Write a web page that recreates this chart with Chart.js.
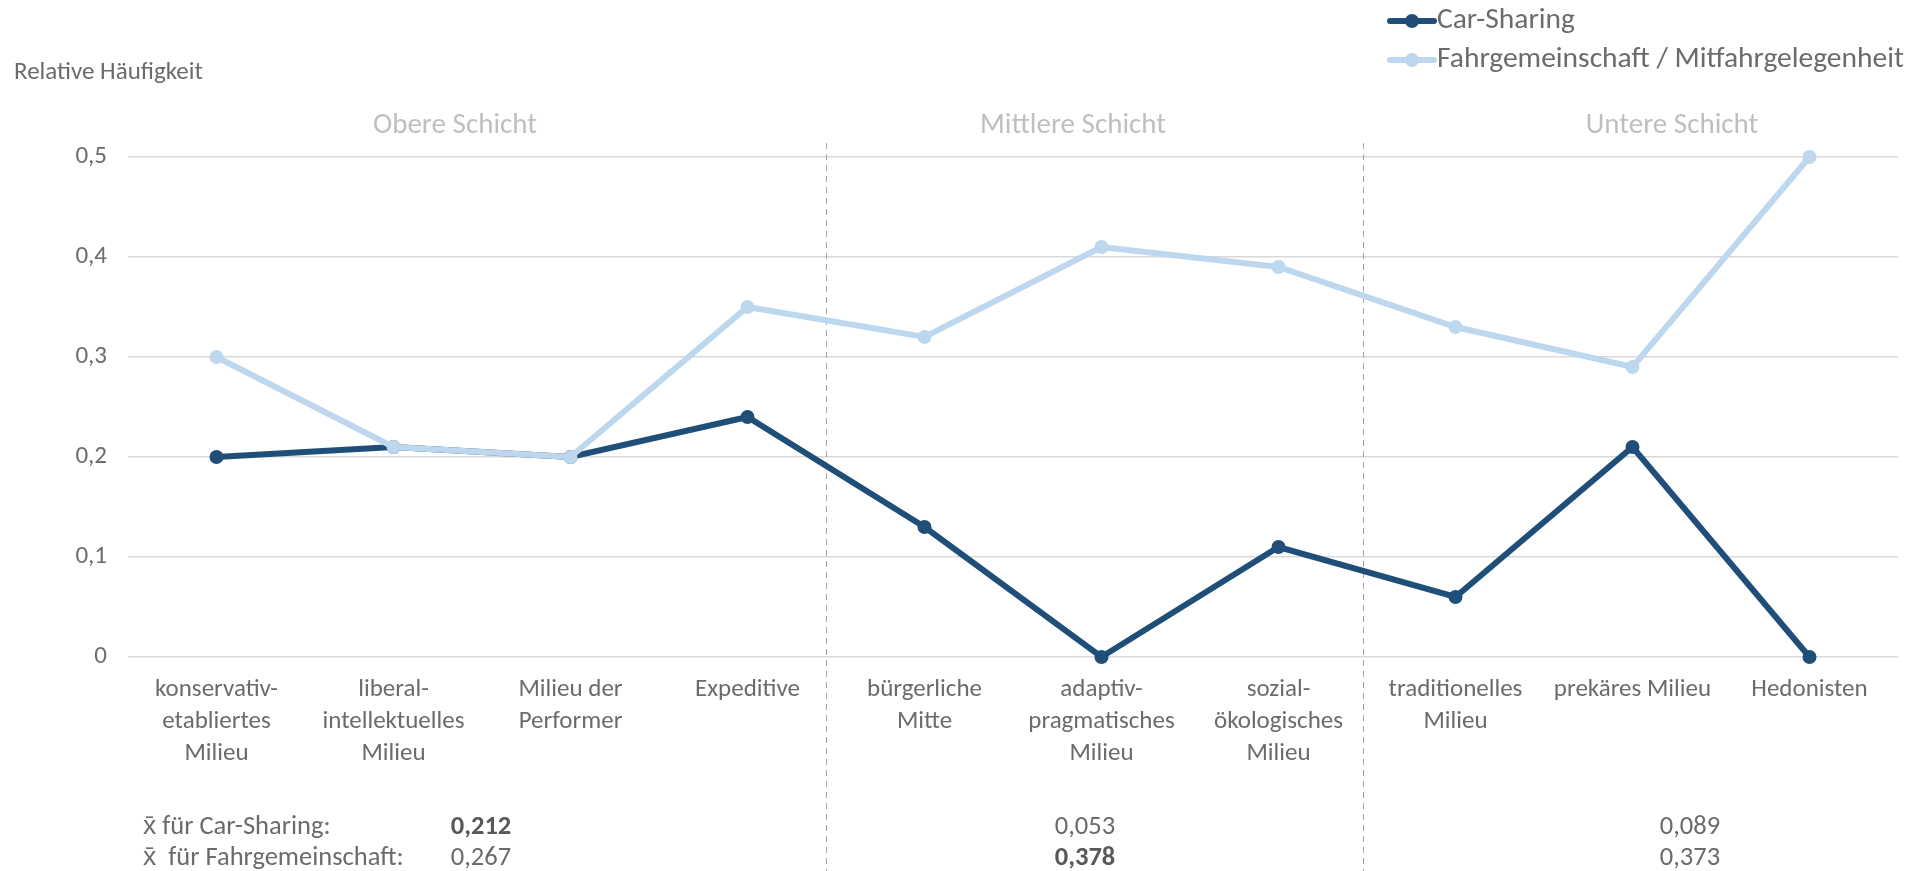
<!DOCTYPE html>
<html><head><meta charset="utf-8">
<script src="https://cdn.jsdelivr.net/npm/chart.js@4.4.1/dist/chart.umd.min.js"></script>
<style>html,body{margin:0;padding:0;background:#fff;overflow:hidden}#wrap{width:1905px;height:871px;position:relative}</style>
</head><body><div id="wrap"><canvas id="c" width="1905" height="871"></canvas></div>
<script>
const categories = [["konservativ-","etabliertes","Milieu"],["liberal-","intellektuelles","Milieu"],["Milieu der","Performer"],["Expeditive"],["bürgerliche","Mitte"],["adaptiv-","pragmatisches","Milieu"],["sozial-","ökologisches","Milieu"],["traditionelles","Milieu"],["prekäres Milieu"],["Hedonisten"]];
const seriesNames = ["Car-Sharing","Fahrgemeinschaft / Mitfahrgelegenheit"];
const carSharing = [0.20,0.21,0.20,0.24,0.13,0.00,0.11,0.06,0.21,0.00];
const fahrgemeinschaft = [0.30,0.21,0.20,0.35,0.32,0.41,0.39,0.33,0.29,0.50];
const yTicks = [0,0.1,0.2,0.3,0.4,0.5];
const yTitle = "Relative Häufigkeit";
const groupNames = ["Obere Schicht","Mittlere Schicht","Untere Schicht"];
const groupBoundaries = [3,6]; // separators after these category indices
const meanRowLabels = ["x\u0304 für Car-Sharing:","x\u0304  für Fahrgemeinschaft:"];
const meanCarSharing = ["0,212","0,053","0,089"];
const meanFahrgemeinschaft = ["0,267","0,378","0,373"];
const meanBold = [[true,false,false],[false,true,false]];

const FONT = "Carlito, 'Liberation Sans Narrow', 'Liberation Sans', sans-serif";
const DARK = "#1f4e79", LIGHT = "#bdd7ee";
const TEXT = "#6b6b6b";

// layout positions for free text (style only)
const groupLabelX = [455, 1073, 1672];
const meanValueX = [481, 1085, 1690];
const sepFrac = [0.446, 0.48];

const extras = {
  id: 'extras',
  beforeDatasetsDraw(chart) {
    const ctx = chart.ctx, x = chart.scales.x;
    ctx.save();
    ctx.strokeStyle = "#a6a6a6"; ctx.lineWidth = 1; ctx.setLineDash([6,5]);
    groupBoundaries.forEach((i, k) => {
      const a = x.getPixelForTick(i), b = x.getPixelForTick(i+1);
      const px = Math.round(a + (b - a) * sepFrac[k]) + 0.5;
      ctx.beginPath(); ctx.moveTo(px, 143); ctx.lineTo(px, 871); ctx.stroke();
    });
    ctx.restore();
  },
  afterDraw(chart) {
    const ctx = chart.ctx;
    ctx.save();
    // y title
    ctx.font = "25px " + FONT; ctx.fillStyle = TEXT; ctx.textBaseline = "middle"; ctx.textAlign = "left";
    ctx.fillText(yTitle, 14, 73);
    // group labels
    ctx.font = "29px " + FONT; ctx.fillStyle = "#bfbfbf"; ctx.textAlign = "center";
    groupNames.forEach((g, i) => ctx.fillText(g, groupLabelX[i], 126));
    // legend
    chart.data.datasets.forEach((ds, i) => {
      const y = 21 + i * 39;
      ctx.strokeStyle = ds.borderColor; ctx.lineWidth = 6; ctx.lineCap = "round";
      ctx.beginPath(); ctx.moveTo(1390, y); ctx.lineTo(1434, y); ctx.stroke();
      ctx.fillStyle = ds.borderColor; ctx.beginPath(); ctx.arc(1412, y, 7, 0, Math.PI*2); ctx.fill();
      ctx.font = "29.5px " + FONT; ctx.fillStyle = TEXT; ctx.textAlign = "left";
      ctx.fillText(ds.label, 1437, y);
    });
    // mean rows
    const rows = [meanCarSharing, meanFahrgemeinschaft];
    rows.forEach((vals, r) => {
      const y = 827 + r * 31;
      ctx.font = "26.5px " + FONT; ctx.fillStyle = TEXT; ctx.textAlign = "left";
      ctx.fillText(meanRowLabels[r], 143, y);
      ctx.textAlign = "center";
      vals.forEach((v, j) => {
        ctx.font = (meanBold[r][j] ? "bold " : "") + "26.5px " + FONT;
        ctx.fillStyle = meanBold[r][j] ? "#595959" : TEXT;
        ctx.fillText(v, meanValueX[j], y);
      });
    });
    ctx.restore();
  }
};

new Chart(document.getElementById('c'), {
  type: 'line',
  data: {
    labels: categories,
    datasets: [
      { label: seriesNames[0], data: carSharing, borderColor: DARK, backgroundColor: DARK, clip: false,
        pointBackgroundColor: DARK, pointBorderColor: DARK, borderWidth: 6, pointRadius: 7, pointBorderWidth: 0, order: 1, tension: 0 },
      { label: seriesNames[1], data: fahrgemeinschaft, borderColor: LIGHT, backgroundColor: LIGHT, clip: false,
        pointBackgroundColor: LIGHT, pointBorderColor: LIGHT, borderWidth: 6, pointRadius: 7, pointBorderWidth: 0, order: 0, tension: 0 }
    ]
  },
  options: {
    responsive: false, animation: false, devicePixelRatio: 1,
    layout: { padding: { top: 157, right: 6, left: 0, bottom: 0 } },
    plugins: { legend: { display: false }, tooltip: { enabled: false } },
    scales: {
      x: {
        offset: true,
        grid: { display: false, drawTicks: false },
        border: { display: false },
        ticks: { color: TEXT, font: { family: FONT, size: 25, lineHeight: 1.27 }, padding: 17, maxRotation: 0, autoSkip: false },
        afterFit(s) { s.height = 214; }
      },
      y: {
        min: 0, max: 0.5,
        afterBuildTicks(s) { s.ticks = yTicks.map(v => ({ value: v })); },
        grid: { color: "#d9d9d9", lineWidth: 1.5, drawTicks: false },
        border: { display: false },
        ticks: { color: TEXT, font: { family: FONT, size: 25 }, padding: 21,
          callback: v => v === 0 ? "0" : v.toFixed(1).replace('.', ',') },
        afterFit(s) { s.width = 128; }
      }
    }
  },
  plugins: [extras]
});
</script>
</body></html>
